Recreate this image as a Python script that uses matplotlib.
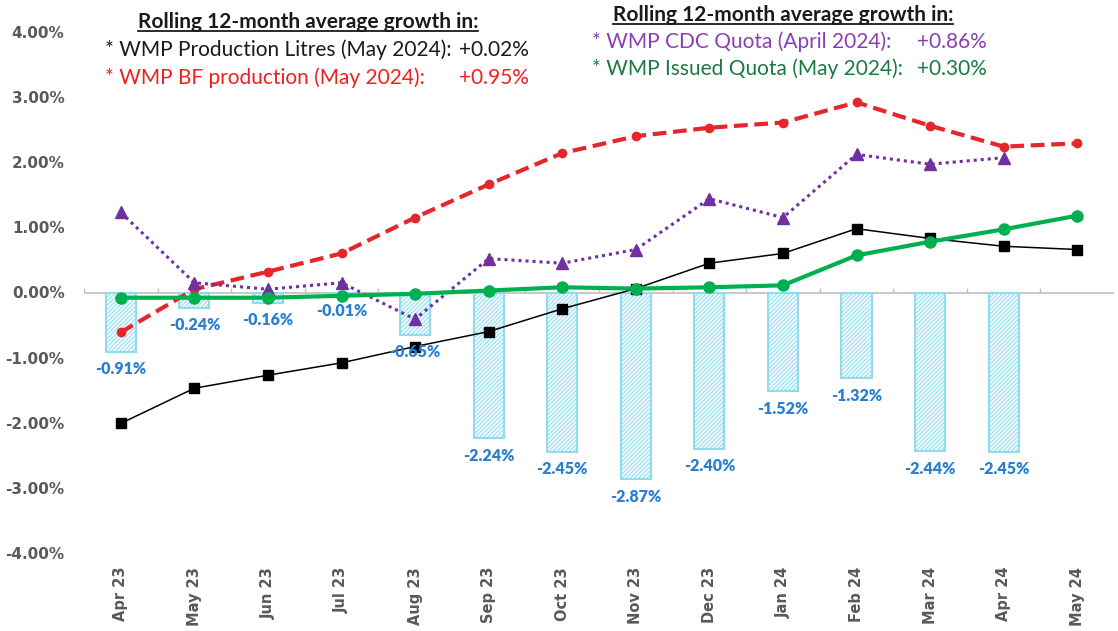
import matplotlib
matplotlib.use("Agg")
import matplotlib.pyplot as plt
import numpy as np
from matplotlib.lines import Line2D

months = ["Apr 23", "May 23", "Jun 23", "Jul 23", "Aug 23", "Sep 23", "Oct 23",
          "Nov 23", "Dec 23", "Jan 24", "Feb 24", "Mar 24", "Apr 24", "May 24"]
bar_gap = [-0.91, -0.24, -0.16, -0.01, -0.65, -2.24, -2.45, -2.87, -2.40, -1.52,
           -1.32, -2.44, -2.45, np.nan]
prod_litres = [-2.01, -1.47, -1.27, -1.08, -0.83, -0.60, -0.25, 0.06, 0.45, 0.60,
               0.98, 0.83, 0.71, 0.66]
bf_prod = [-0.61, 0.05, 0.32, 0.60, 1.15, 1.66, 2.14, 2.40, 2.53, 2.61, 2.92, 2.56,
           2.24, 2.29]
cdc_quota = [1.23, 0.15, 0.05, 0.15, -0.41, 0.52, 0.45, 0.66, 1.44, 1.15, 2.12, 1.97,
             2.07, np.nan]
issued_quota = [-0.08, -0.08, -0.08, -0.05, -0.02, 0.03, 0.08, 0.06, 0.08, 0.11, 0.57,
                0.78, 0.97, 1.18]
yticks = [4, 3, 2, 1, 0, -1, -2, -3, -4]

fig = plt.figure(figsize=(11.18, 6.31), dpi=100)
ax = fig.add_axes([84 / 1118, 1 - 553 / 631, 1030 / 1118, 521 / 631])
x = np.arange(len(months))

plt.rcParams['hatch.color'] = '#8fdcef'
plt.rcParams['hatch.linewidth'] = 0.7
bars = ax.bar(x, bar_gap, width=0.41, color='#f2fbfe', edgecolor='#8fdcef',
              linewidth=1.5, hatch='////////', zorder=1)
for xi, v in zip(x, bar_gap):
    if np.isnan(v):
        continue
    ax.annotate(f"{v:.2f}%", (xi, v), xytext=(0, -12.5), textcoords='offset points',
                ha='center', va='center', fontsize=11.5, fontweight='heavy',
                color='#2a7fcf', family='Lato', zorder=6)

ax.plot(x, prod_litres, color='black', lw=1.1, marker='s', ms=7, zorder=4)
ax.plot(x, bf_prod, color='#e5262b', lw=3, ls=(0, (3.3, 1.6)), marker='o', ms=6,
        zorder=3)
ax.plot(x, cdc_quota, color='#7030a0', lw=2.2, ls=(0, (1, 1.3)), marker='^', ms=9,
        zorder=3)
ax.plot(x, issued_quota, color='#00b050', lw=3, marker='o', ms=8, zorder=5)

ax.set_xlim(-0.5, len(months) - 0.5)
ax.set_ylim(-4, 4)
ax.set_yticks(yticks)
ax.set_yticklabels([f"{t:.2f}%" for t in yticks])
ax.set_xticks(x)
ax.set_xticklabels(months, rotation=90)
for s in ax.spines.values():
    s.set_visible(False)
ax.tick_params(axis='both', length=0, labelcolor='#595959', labelsize=11)
ax.tick_params(axis='x', pad=10, labelsize=10.5)
ax.tick_params(axis='y', pad=14)
for lab in ax.get_xticklabels() + ax.get_yticklabels():
    lab.set_fontweight('bold')
ax.axhline(0, color='#bfbfbf', lw=1.2, zorder=0)
ax.vlines(np.arange(-0.5, len(months)), 0, 0.07, color='#bfbfbf', lw=1, zorder=0)

def fx(px):
    return px / 1118
def fy(py):
    return 1 - py / 631

fs = 15
t1 = fig.text(fx(308), fy(22), "Rolling 12-month average growth in:", ha='center',
              va='center', fontsize=fs, fontweight='bold', family='Lato', color='#1a1a1a')
fig.text(fx(105), fy(50), "* WMP Production Litres (May 2024):", ha='left', va='center',
         fontsize=fs, family='Lato', color='#1a1a1a')
fig.text(fx(529), fy(50), "+0.02%", ha='right', va='center', fontsize=fs, family='Lato',
         color='#1a1a1a')
fig.text(fx(105), fy(78), "* WMP BF production (May 2024):", ha='left', va='center',
         fontsize=fs, family='Lato', color='#f02020')
fig.text(fx(529), fy(78), "+0.95%", ha='right', va='center', fontsize=fs, family='Lato',
         color='#f02020')

t2 = fig.text(fx(783), fy(15), "Rolling 12-month average growth in:", ha='center',
              va='center', fontsize=fs, fontweight='bold', family='Lato', color='#1a1a1a')
fig.text(fx(592), fy(42), "* WMP CDC Quota (April 2024):", ha='left', va='center',
         fontsize=fs, family='Lato', color='#8a3fb5')
fig.text(fx(987), fy(42), "+0.86%", ha='right', va='center', fontsize=fs, family='Lato',
         color='#8a3fb5')
fig.text(fx(592), fy(69), "* WMP Issued Quota (May 2024):", ha='left', va='center',
         fontsize=fs, family='Lato', color='#1b7a43')
fig.text(fx(987), fy(69), "+0.30%", ha='right', va='center', fontsize=fs, family='Lato',
         color='#1b7a43')

fig.canvas.draw()
r = fig.canvas.get_renderer()
for t in (t1, t2):
    bb = t.get_window_extent(r).transformed(fig.transFigure.inverted())
    fig.add_artist(Line2D([bb.x0, bb.x1], [bb.y0 + 0.002, bb.y0 + 0.002],
                          transform=fig.transFigure, color='#1a1a1a', lw=1.3))

fig.savefig("out.png", dpi=100)
